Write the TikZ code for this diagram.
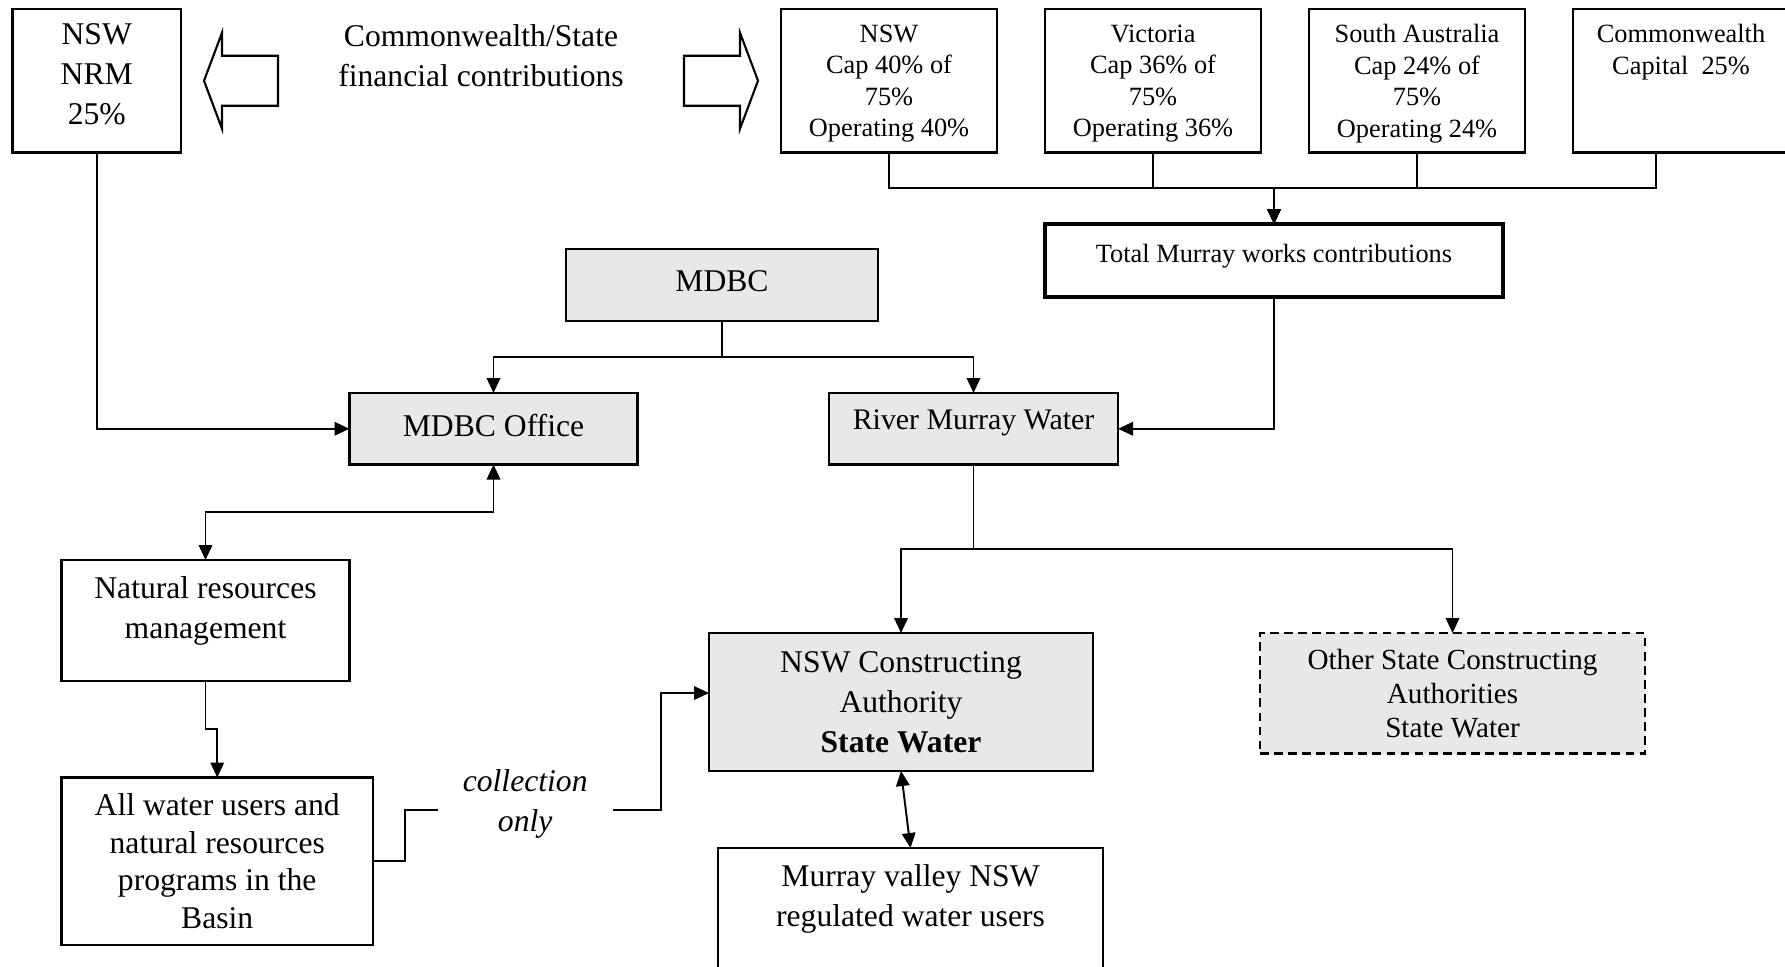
\documentclass[tikz,border=0pt]{standalone}
\usepackage{fontspec}
\setmainfont{Liberation Serif}
\usepackage{tikz}
\usetikzlibrary{positioning,calc,arrows.meta}
\definecolor{boxgray}{HTML}{E8E8E8}
\newcommand{\mainsize}{\fontsize{9}{11.4}\selectfont}
\newcommand{\capsize}{\fontsize{7.5}{9}\selectfont}
\newcommand{\othersize}{\fontsize{8.3}{9.7}\selectfont}
\tikzset{
  -|-/.style={
    to path={
      (\tikztostart) -| ($(\tikztostart)!#1!(\tikztotarget)$) |- (\tikztotarget)
      \tikztonodes
    }
  },
  -|-/.default=0.5,
  |-|/.style={
    to path={
      (\tikztostart) |- ($(\tikztostart)!#1!(\tikztotarget)$) -| (\tikztotarget)
      \tikztonodes
    }
  },
  |-|/.default=0.5,
}
\begin{document}
\begin{tikzpicture}[
    >={Triangle[length=1.5mm,width=1.35mm]},
    line width=0.55pt,
    plainbox/.style={draw, line width=0.65pt, outer sep=0pt, align=center, font=\mainsize},
    shadedbox/.style={plainbox, fill=boxgray},
    capbox/.style={plainbox, font=\capsize, text depth=0pt, minimum width=21.6mm, minimum height=14.35mm},
    hollow/.style={draw, line width=0.6pt, fill=white}
  ]
    \useasboundingbox (0,0) rectangle (178.5mm,-96.6mm);

    % contributions
    \node (nrm) [plainbox, text depth=4pt, minimum width=16.85mm, minimum height=14.35mm, anchor=north west] at (1.25mm,-0.9mm) {NSW\\NRM\\25\%};
    \node (nswcap) [capbox, right=60mm of nrm.north east, anchor=north west] {NSW\\Cap 40\% of\\75\%\\Operating 40\%};
    \node (vic) [capbox, right=4.8mm of nswcap.north east, anchor=north west] {Victoria\\Cap 36\% of\\75\%\\Operating 36\%};
    \node (sa) [capbox, right=4.8mm of vic.north east, anchor=north west] {South Australia\\Cap 24\% of\\75\%\\Operating 24\%};
    \node (cw) [capbox, right=4.8mm of sa.north east, anchor=north west] {Commonwealth\\Capital\ \ 25\%\\\strut\\\strut};
    \node (cws) [font=\mainsize, align=center, yshift=2.5mm] at ($(nrm.east)!.5!(nswcap.west)$) {Commonwealth/State\\financial contributions};

    \draw[hollow] ([xshift=2.3mm]nrm.east) -- ++(1.8mm,4.8mm) -- ++(0,-2.3mm) -- ++(5.6mm,0) -- ++(0,-5mm) -- ++(-5.6mm,0) -- ++(0,-2.3mm) -- cycle;
    \draw[hollow] ([xshift=-2.3mm]nswcap.west) -- ++(-1.8mm,4.8mm) -- ++(0,-2.3mm) -- ++(-5.6mm,0) -- ++(0,-5mm) -- ++(5.6mm,0) -- ++(0,-2.3mm) -- cycle;

    \node (total) [plainbox, line width=1.3pt, font=\capsize, text depth=4pt, minimum width=45.8mm, minimum height=7.3mm, below=7.15mm of vic.south west, anchor=north west] {Total Murray works contributions};

    % commission
    \node (mdbc) [shadedbox, text depth=2.2pt, minimum width=31.2mm, minimum height=7.2mm, left=16.7mm of total.north west, yshift=-2.5mm, anchor=north east] {MDBC};
    \node (office) [shadedbox, text depth=2.2pt, minimum width=28.8mm, minimum height=7.15mm, below=7.2mm of mdbc.south west, xshift=-21.65mm, anchor=north west] {MDBC Office};
    \node (river) [shadedbox, font=\fontsize{8.5}{11}\selectfont, text depth=5pt, minimum width=28.9mm, minimum height=7.15mm, right=19.15mm of office.north east, anchor=north west] {River Murray Water};

    \node (nrmgmt) [plainbox, text depth=7.5pt, minimum width=28.8mm, minimum height=12.1mm, below=9.55mm of office.south west, anchor=north east] {Natural resources\\management};
    \node (users) [plainbox, font=\fontsize{9}{10.7}\selectfont, minimum width=31.15mm, minimum height=16.75mm, below=9.65mm of nrmgmt.south west, anchor=north west] {All water users and\\natural resources\\programs in the\\Basin};

    \node (nswca) [shadedbox, minimum width=38.4mm, minimum height=13.8mm, below=16.85mm of river.south west, xshift=-12mm, anchor=north west] {NSW Constructing\\Authority\\\textbf{State Water}};
    \node (other) [shadedbox, dash pattern=on 2.5pt off 1.5pt, font=\othersize, minimum width=38.5mm, minimum height=12.05mm, right=16.7mm of nswca.north east, anchor=north west] {Other State Constructing\\Authorities\\State Water};
    \node (murray) [plainbox, minimum width=38.5mm, minimum height=14.8mm, below=7.7mm of nswca.south west, xshift=0.9mm, anchor=north west] {Murray valley NSW\\regulated water users\\\strut};
    \node (coll) [font=\mainsize\itshape, align=center, text depth=5.2pt, inner xsep=2.4mm, left=9.65mm of nswca.west, yshift=-10.8mm] {collection\\only};

    \draw[->] (nswcap.south) to[|-|] (total.north);
    \draw[->] (vic.south) to[|-|] (total.north);
    \draw[->] (sa.south) to[|-|] (total.north);
    \draw[->] ([xshift=-2.5mm]cw.south) to[|-|] (total.north);

    \draw[->] (mdbc.south) to[|-|] (office.north);
    \draw[->] (mdbc.south) to[|-|] (river.north);
    \draw[->] (nrm.south) |- (office.west);
    \draw[->] (total.south) |- (river.east);

    \draw[<->] (office.south) to[|-|] (nrmgmt.north);
    \draw[->] (nrmgmt.south) to[|-|] (users.north);
    \draw (users.east) to[-|-] (coll.west);
    \draw[->] (coll.east) to[-|-] ([yshift=0.9mm]nswca.west);

    \draw[->] (river.south) to[|-|] (nswca.north);
    \draw[->] (river.south) to[|-|] (other.north);
    \draw[<->] (nswca.south) -- (murray.north);
  \end{tikzpicture}
\end{document}
